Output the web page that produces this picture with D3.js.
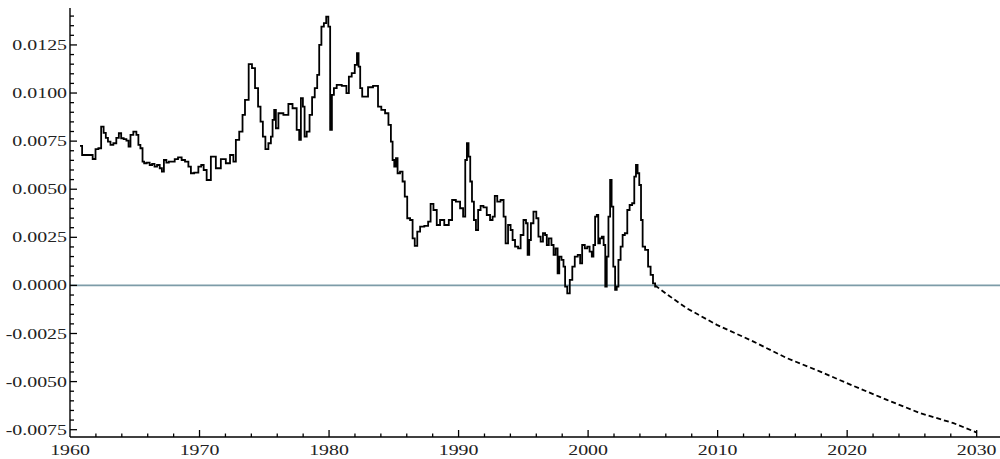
<!DOCTYPE html>
<html>
<head>
<meta charset="utf-8">
<script src="https://cdn.jsdelivr.net/npm/d3@7"></script>
<style>
  html, body { margin: 0; padding: 0; background: #fff; }
  svg { display: block; }
</style>
</head>
<body>
<svg id="chart" width="1000" height="459"></svg>
<script>
// Observed series, [year, value], split by decade
const series1960s = [[1960.77,0.00725],[1961.10,0.00678],[1961.62,0.00678],[1961.88,0.00657],[1962.06,0.00708],[1962.32,0.00713],[1962.49,0.00825],[1962.70,0.00793],[1962.83,0.00767],[1963.03,0.00747],[1963.22,0.00730],[1963.47,0.00739],[1963.68,0.00767],[1963.86,0.00791],[1964.04,0.00765],[1964.25,0.00760],[1964.46,0.00753],[1964.58,0.00721],[1964.76,0.00782],[1965.02,0.00799],[1965.23,0.00782],[1965.33,0.00730],[1965.54,0.00713],[1965.66,0.00643],[1965.79,0.00635],[1966.05,0.00638],[1966.25,0.00626],[1966.43,0.00632],[1966.62,0.00617],[1966.82,0.00626],[1967.03,0.00609],[1967.16,0.00591],[1967.34,0.00652],[1967.54,0.00638],[1967.72,0.00643],[1967.98,0.00643],[1968.19,0.00656],[1968.49,0.00666],[1968.75,0.00652],[1969.01,0.00643],[1969.27,0.00617],[1969.40,0.00583],[1969.78,0.00586]];
const series1970s = [[1970.04,0.00617],[1970.22,0.00626],[1970.42,0.00600],[1970.68,0.00548],[1971.07,0.00669],[1971.45,0.00609],[1971.84,0.00656],[1972.22,0.00635],[1972.49,0.00678],[1972.74,0.00643],[1972.87,0.00756],[1973.26,0.00799],[1973.38,0.00886],[1973.64,0.00964],[1973.95,0.01150],[1974.15,0.01129],[1974.42,0.01025],[1974.62,0.00929],[1974.80,0.00851],[1974.98,0.00773],[1975.19,0.00708],[1975.44,0.00739],[1975.58,0.00773],[1975.70,0.00860],[1975.83,0.00912],[1975.96,0.00817],[1976.22,0.00895],[1976.73,0.00886],[1976.99,0.00943],[1977.37,0.00921],[1977.63,0.00808],[1977.76,0.00756],[1977.89,0.00973],[1978.07,0.00929],[1978.15,0.00773],[1978.40,0.00799],[1978.59,0.00886],[1978.79,0.00978],[1979.00,0.01025],[1979.17,0.01094],[1979.31,0.01250],[1979.51,0.01345],[1979.69,0.01363],[1979.87,0.01397]];
const series1980s = [[1980.02,0.01345],[1980.15,0.00808],[1980.29,0.00990],[1980.46,0.01025],[1980.72,0.01042],[1981.24,0.01037],[1981.44,0.00999],[1981.62,0.01085],[1981.88,0.01103],[1982.09,0.01146],[1982.22,0.01207],[1982.34,0.01137],[1982.47,0.01025],[1982.65,0.00981],[1982.91,0.00981],[1983.11,0.01030],[1983.68,0.01037],[1983.88,0.00929],[1984.19,0.00912],[1984.46,0.00895],[1984.71,0.00834],[1984.84,0.00747],[1984.97,0.00652],[1985.10,0.00617],[1985.23,0.00661],[1985.35,0.00583],[1985.61,0.00591],[1985.74,0.00540],[1985.95,0.00462],[1986.12,0.00349],[1986.39,0.00340],[1986.51,0.00245],[1986.72,0.00205],[1986.90,0.00280],[1987.16,0.00306],[1987.55,0.00309],[1987.75,0.00332],[1987.93,0.00424],[1988.19,0.00392],[1988.44,0.00314],[1988.70,0.00340],[1989.09,0.00314],[1989.40,0.00340],[1989.60,0.00444],[1989.98,0.00436]];
const series1990s = [[1990.25,0.00401],[1990.45,0.00358],[1990.58,0.00652],[1990.71,0.00739],[1990.83,0.00669],[1990.97,0.00540],[1991.10,0.00436],[1991.27,0.00340],[1991.41,0.00288],[1991.61,0.00392],[1991.79,0.00413],[1992.05,0.00406],[1992.30,0.00366],[1992.56,0.00340],[1992.69,0.00358],[1992.90,0.00465],[1993.07,0.00436],[1993.41,0.00444],[1993.54,0.00358],[1993.72,0.00219],[1993.92,0.00314],[1994.11,0.00288],[1994.23,0.00236],[1994.49,0.00202],[1994.70,0.00193],[1994.88,0.00262],[1995.14,0.00340],[1995.27,0.00323],[1995.39,0.00159],[1995.52,0.00236],[1995.65,0.00323],[1995.91,0.00384],[1996.09,0.00349],[1996.24,0.00254],[1996.43,0.00228],[1996.60,0.00271],[1996.76,0.00262],[1996.86,0.00210],[1997.07,0.00245],[1997.27,0.00210],[1997.40,0.00159],[1997.58,0.00193],[1997.71,0.00063],[1997.84,0.00150],[1998.05,0.00133],[1998.15,0.00098],[1998.30,-0.00006],[1998.48,-0.00041],[1998.69,0.00029],[1998.87,0.00098],[1999.07,0.00150],[1999.33,0.00159],[1999.44,0.00115],[1999.64,0.00210],[1999.85,0.00193]];
const series2000s = [[2000.02,0.00202],[2000.21,0.00176],[2000.36,0.00150],[2000.46,0.00210],[2000.62,0.00358],[2000.72,0.00366],[2000.85,0.00219],[2000.98,0.00245],[2001.14,0.00254],[2001.26,0.00210],[2001.39,-0.00006],[2001.49,0.00150],[2001.65,0.00358],[2001.75,0.00548],[2001.88,0.00410],[2002.01,0.00098],[2002.16,-0.00023],[2002.26,-0.00006],[2002.42,0.00133],[2002.60,0.00202],[2002.73,0.00262],[2002.94,0.00271],[2003.11,0.00392],[2003.30,0.00418],[2003.50,0.00427],[2003.63,0.00565],[2003.76,0.00626],[2003.88,0.00583],[2004.02,0.00522],[2004.15,0.00340],[2004.27,0.00202],[2004.53,0.00185],[2004.73,0.00098],[2004.92,0.00055],[2005.10,0.00011],[2005.25,-0.00006]];

// Projected path, drawn dashed
const projection = [[2005.17,0],[2006.33,-0.00058],[2007.62,-0.00119],[2009.94,-0.00205],[2012.77,-0.00292],[2015.34,-0.00378],[2017.92,-0.00448],[2019.98,-0.00508],[2023.07,-0.00595],[2025.64,-0.00664],[2028.21,-0.00716],[2030.02,-0.00765]];

// Axis ticks
const xTickValues = [1960, 1970, 1980, 1990, 2000, 2010, 2020, 2030];
const xTickLabels = ["1960", "1970", "1980", "1990", "2000", "2010", "2020", "2030"];
const yTickValues = [-0.0075, -0.005, -0.0025, 0, 0.0025, 0.005, 0.0075, 0.01, 0.0125];
const yTickLabels = ["-0.0075", "-0.0050", "-0.0025", "0.0000", "0.0025", "0.0050", "0.0075", "0.0100", "0.0125"];
const xDomain = [1960, 2031.8];
const yDomain = [-0.00788, 0.01442];

const svg = d3.select("#chart");
const x = d3.scaleLinear().domain(xDomain).range([70, 1000]);
const y = d3.scaleLinear().domain(yDomain).range([437, 8]);

const history = [].concat(series1960s, series1970s, series1980s, series1990s, series2000s);

// zero reference line
svg.append("line")
  .attr("x1", x(xDomain[0])).attr("x2", x(xDomain[1]))
  .attr("y1", y(0)).attr("y2", y(0))
  .attr("stroke", "#7d9ca8").attr("stroke-width", 1.6);

// observed values are plotted as a stepped trace
const stepLine = d3.line().x(d => x(d[0])).y(d => y(d[1])).curve(d3.curveStep);
const line = d3.line().x(d => x(d[0])).y(d => y(d[1]));

svg.append("path")
  .datum(history)
  .attr("d", stepLine)
  .attr("fill", "none")
  .attr("stroke", "#000")
  .attr("stroke-width", 1.8)
  .attr("stroke-linejoin", "miter");

svg.append("path")
  .datum(projection)
  .attr("d", line)
  .attr("fill", "none")
  .attr("stroke", "#000")
  .attr("stroke-width", 1.8)
  .attr("stroke-dasharray", "5,3");

// axes: ticks drawn inward
const axisG = svg.append("g").attr("stroke", "#000");
axisG.append("line")
  .attr("x1", x(xDomain[0])).attr("x2", x(xDomain[1]))
  .attr("y1", y(yDomain[0])).attr("y2", y(yDomain[0]))
  .attr("stroke-width", 1.4);
axisG.append("line")
  .attr("x1", x(xDomain[0])).attr("x2", x(xDomain[0]))
  .attr("y1", y(yDomain[0])).attr("y2", y(yDomain[1]))
  .attr("stroke-width", 1.4);

const xMinor = d3.range(1962, xDomain[1], 2).filter(v => v % 10 !== 0);
const yMinor = d3.range(-75, 145, 5).map(v => v / 10000).filter(v => Math.round(v * 10000) % 25 !== 0 && v > yDomain[0] && v < yDomain[1]);

axisG.selectAll(".xmaj").data(xTickValues.slice(1)).enter().append("line")
  .attr("x1", d => x(d)).attr("x2", d => x(d))
  .attr("y1", y(yDomain[0])).attr("y2", y(yDomain[0]) - 7)
  .attr("stroke-width", 1.3);
axisG.selectAll(".xmin").data(xMinor).enter().append("line")
  .attr("x1", d => x(d)).attr("x2", d => x(d))
  .attr("y1", y(yDomain[0])).attr("y2", y(yDomain[0]) - 3.5)
  .attr("stroke-width", 1.3);
axisG.selectAll(".ymaj").data(yTickValues).enter().append("line")
  .attr("x1", x(xDomain[0])).attr("x2", x(xDomain[0]) + 7)
  .attr("y1", d => y(d)).attr("y2", d => y(d))
  .attr("stroke-width", 1.3);
axisG.selectAll(".ymin").data(yMinor).enter().append("line")
  .attr("x1", x(xDomain[0])).attr("x2", x(xDomain[0]) + 4)
  .attr("y1", d => y(d)).attr("y2", d => y(d))
  .attr("stroke-width", 1.3);

// labels in a wide serif face
const font = "'Liberation Serif', 'Times New Roman', serif";
svg.selectAll(".xlab").data(xTickValues).enter().append("text")
  .attr("transform", d => `translate(${x(d)},455) scale(1.42,1)`)
  .attr("text-anchor", "middle")
  .attr("font-family", font).attr("font-size", 14).attr("fill", "#222")
  .text((d, i) => xTickLabels[i]);
svg.selectAll(".ylab").data(yTickValues).enter().append("text")
  .attr("transform", d => `translate(67,${y(d) + 5}) scale(1.42,1)`)
  .attr("text-anchor", "end")
  .attr("font-family", font).attr("font-size", 14).attr("fill", "#222")
  .text((d, i) => yTickLabels[i]);
</script>
</body>
</html>
